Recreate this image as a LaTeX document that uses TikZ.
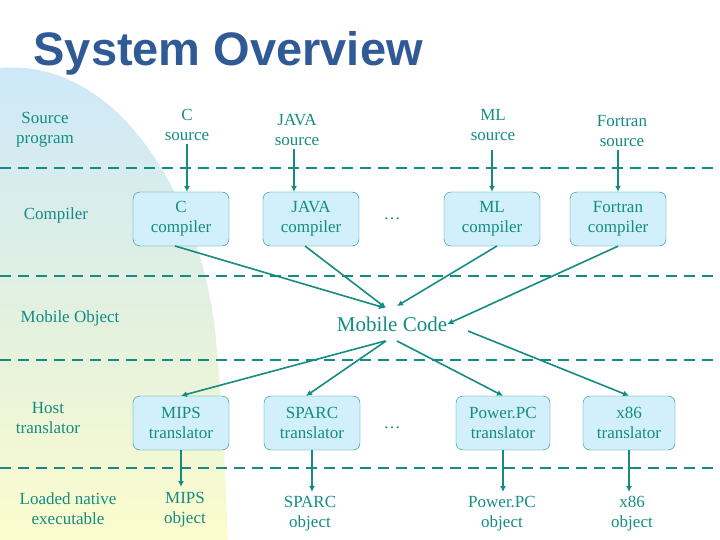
\documentclass[tikz,border=0pt]{standalone}
\usepackage{fontspec}
\usetikzlibrary{arrows.meta}
\setmainfont{Liberation Serif}
\newfontfamily\titlefont{Liberation Sans}
\definecolor{tl}{RGB}{20,140,130}
\definecolor{bgtop}{RGB}{205,232,250}
\definecolor{bgmid}{RGB}{225,240,225}
\definecolor{bgbot}{RGB}{252,252,205}
\begin{document}
\begin{tikzpicture}[x=1pt,y=-1pt,
  lbl/.style={text=tl,font=\rmfamily\mdseries\fontsize{17}{20}\selectfont,align=center,inner sep=0pt},
  box/.style={lbl,draw=tl,fill=cyan!18,rounded corners=7pt,minimum width=96pt,minimum height=54pt},
  arr/.style={draw=tl,line width=1.6pt,-{Latex[length=6pt,width=6pt]}},
  dashln/.style={draw=tl,line width=2.2pt,dash pattern=on 11pt off 7pt}]
\useasboundingbox (0,0) rectangle (720,540);
\shade[top color=bgtop,bottom color=bgbot,middle color=bgmid]
  (0,68) .. controls (120,58) and (200,200) .. (215,330) .. controls (222,400) and (225,470) .. (228,540) -- (0,540) -- cycle;
\node[anchor=west,text={rgb,255:red,47;green,90;blue,150},font=\titlefont\bfseries\fontsize{47}{52}\selectfont] (title) at (30,53) {System Overview};
\foreach \y in {168,276,360,468} \draw[dashln] (0,\y) -- (720,\y);
% row labels
\node[lbl] (r1) at (45,130) {Source\\program};
\node[lbl] (r2) at (56,215) {Compiler};
\node[lbl] (r3) at (70,318) {Mobile Object};
\node[lbl] (r4) at (48,418) {Host\\translator};
\node[lbl] (r5) at (68,509) {Loaded native\\executable};
% sources
\node[lbl] (cs) at (187,125) {C\\source};
\node[lbl] (js) at (297,130) {JAVA\\source};
\node[lbl] (ms) at (493,125) {ML\\source};
\node[lbl] (fs) at (622,131) {Fortran\\source};
% compilers
\node[box] (cc) at (181,219) {C\\compiler};
\node[box] (jc) at (311,219) {JAVA\\compiler};
\node[lbl] (d1) at (392,219) {\dots};
\node[box] (mc) at (492,219) {ML\\compiler};
\node[box] (fc) at (618,219) {Fortran\\compiler};
\node[lbl,font=\rmfamily\fontsize{21}{24}\selectfont] (code) at (392,324) {Mobile Code};
% translators
\node[box] (mt) at (181,423) {MIPS\\translator};
\node[box] (st) at (312,423) {SPARC\\translator};
\node[lbl] (d2) at (392,428) {\dots};
\node[box,minimum width=94pt] (pt) at (503,423) {Power.PC\\translator};
\node[box,minimum width=92pt] (xt) at (629,423) {x86\\translator};
% objects
\node[lbl] (mo) at (185,510) {MIPS\\object};
\node[lbl] (so) at (310,514) {SPARC\\object};
\node[lbl] (po) at (502,514) {Power.PC\\object};
\node[lbl] (xo) at (632,514) {x86\\object};
% arrows
\draw[arr] (187,144) -- (187,192);
\draw[arr] (294,149) -- (294,192);
\draw[arr] (492,150) -- (mc.north);
\draw[arr] (618,150) -- (fc.north);
\draw[arr] (175,246) -- (385,308);
\draw[arr] (305,246) -- (386,308);
\draw[arr] (497,246) -- (397,306);
\draw[arr] (fc.south) -- (code.east);
\draw[arr] (385,341) -- (mt.north);
\draw[arr] (386,341) -- (306,396);
\draw[arr] (397,341) -- (pt.north);
\draw[arr] (468,331) -- (xt.north);
\draw[arr] (mt.south) -- (181,487);
\draw[arr] (st.south) -- (312,492);
\draw[arr] (pt.south) -- (503,492);
\draw[arr] (xt.south) -- (629,492);
\end{tikzpicture}
\end{document}
